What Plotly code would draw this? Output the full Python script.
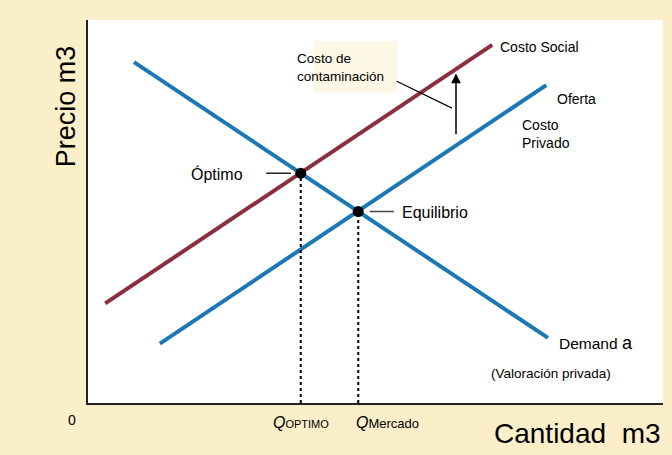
import plotly.graph_objects as go

# ---- data (quantity, price) ----
demand_q = [0.8, 8.0]
demand_p = [8.9, 1.7]
supply_q = [1.25, 7.97]
supply_p = [1.55, 8.3]
social_q = [0.3, 7.03]
social_p = [2.6, 9.35]
optimo_qp = [3.7, 6.0]
equil_qp = [4.7, 5.0]

BLUE = "#1b78b4"
MAROON = "#8a2f3d"
BG = "#fbefca"
FONT = "Liberation Sans, Arial, sans-serif"

fig = go.Figure()
fig.add_trace(go.Scatter(x=demand_q, y=demand_p, mode="lines", line=dict(color=BLUE, width=4)))
fig.add_trace(go.Scatter(x=supply_q, y=supply_p, mode="lines", line=dict(color=BLUE, width=4)))
fig.add_trace(go.Scatter(x=social_q, y=social_p, mode="lines", line=dict(color=MAROON, width=4)))

# dotted drop lines
for q, p in [optimo_qp, equil_qp]:
    fig.add_trace(go.Scatter(x=[q, q], y=[0, p], mode="lines",
                             line=dict(color="black", width=2, dash="dot")))

fig.add_trace(go.Scatter(x=[optimo_qp[0], equil_qp[0]], y=[optimo_qp[1], equil_qp[1]],
                         mode="markers", marker=dict(color="black", size=11)))

# short leader lines next to points
fig.add_trace(go.Scatter(x=[optimo_qp[0] - 0.6, optimo_qp[0] - 0.17], y=[optimo_qp[1]] * 2,
                         mode="lines", line=dict(color="black", width=1.3)))
fig.add_trace(go.Scatter(x=[equil_qp[0] + 0.2, equil_qp[0] + 0.62], y=[equil_qp[1]] * 2,
                         mode="lines", line=dict(color="#444", width=1.5)))

# pollution leader line
fig.add_trace(go.Scatter(x=[5.37, 6.33], y=[8.4, 7.7], mode="lines",
                         line=dict(color="black", width=1.2)))

fig.update_layout(
    width=672, height=455,
    margin=dict(l=88, r=9, t=20, b=52),
    paper_bgcolor=BG, plot_bgcolor="white",
    showlegend=False,
    font=dict(family=FONT, color="black", size=14),
    xaxis=dict(range=[0, 10], showgrid=False, zeroline=False, showticklabels=False,
               showline=True, linecolor="#222", linewidth=1.5, fixedrange=True),
    yaxis=dict(range=[0, 10], showgrid=False, zeroline=False, showticklabels=False,
               showline=True, linecolor="#222", linewidth=1.5, fixedrange=True),
    shapes=[
        dict(type="rect", xref="x", yref="y", x0=3.92, x1=5.38, y0=8.1, y1=9.45,
             fillcolor="#fdf7e6", line=dict(width=0), layer="below"),
    ],
)

ann = []
def A(x, y, text, size=14, xanchor="left", **kw):
    ann.append(dict(x=x, y=y, xref="x", yref="y", text=text, showarrow=False,
                    xanchor=xanchor, yanchor="middle", font=dict(size=size, family=FONT), **kw))

A(7.13, 9.3, "Costo Social", 14)
A(8.12, 7.93, "Oferta", 14)
A(7.52, 7.03, "Costo<br>Privado", 14, align="left")
A(3.6, 8.75, "Costo de<br>contaminación", 13.5, align="left")
A(8.15, 1.57, "Demand <span style='font-size:18px'>a</span>", 15.5)
A(6.98, 0.78, "(Valoración privada)", 13.5)
A(1.75, 5.98, "Óptimo", 16)
A(5.42, 4.97, "Equilibrio", 16)

# arrow
ann.append(dict(x=6.4, y=8.6, ax=6.4, ay=6.98, xref="x", yref="y", axref="x", ayref="y",
                text="", showarrow=True, arrowhead=2, arrowsize=1.3, arrowwidth=1.5,
                arrowcolor="black"))

# axis labels (below the axis, paper-referenced vertically)
ann.append(dict(x=-0.027, y=-0.045, xref="paper", yref="paper", text="0", showarrow=False,
                font=dict(size=14, family=FONT), xanchor="center", yanchor="middle"))
ann.append(dict(x=optimo_qp[0], y=-0.05, xref="x", yref="paper",
                text="<i>Q</i><span style='font-size:11px'>OPTIMO</span>", showarrow=False,
                font=dict(size=16, family=FONT), xanchor="center", yanchor="middle"))
ann.append(dict(x=equil_qp[0] - 0.08, y=-0.05, xref="x", yref="paper",
                text="<i>Q</i><span style='font-size:13px'>Mercado</span>", showarrow=False,
                font=dict(size=16, family=FONT), xanchor="left", yanchor="middle"))
ann.append(dict(x=1.0, y=-0.035, xref="paper", yref="paper", text="Cantidad  m3",
                showarrow=False, font=dict(size=28, family=FONT), xanchor="right", yanchor="top"))
ann.append(dict(x=-0.038, y=0.775, xref="paper", yref="paper", text="Precio m3", textangle=-90,
                showarrow=False, font=dict(size=27, family=FONT), xanchor="center", yanchor="middle"))

fig.update_layout(annotations=ann)
fig.write_html("out.html")
